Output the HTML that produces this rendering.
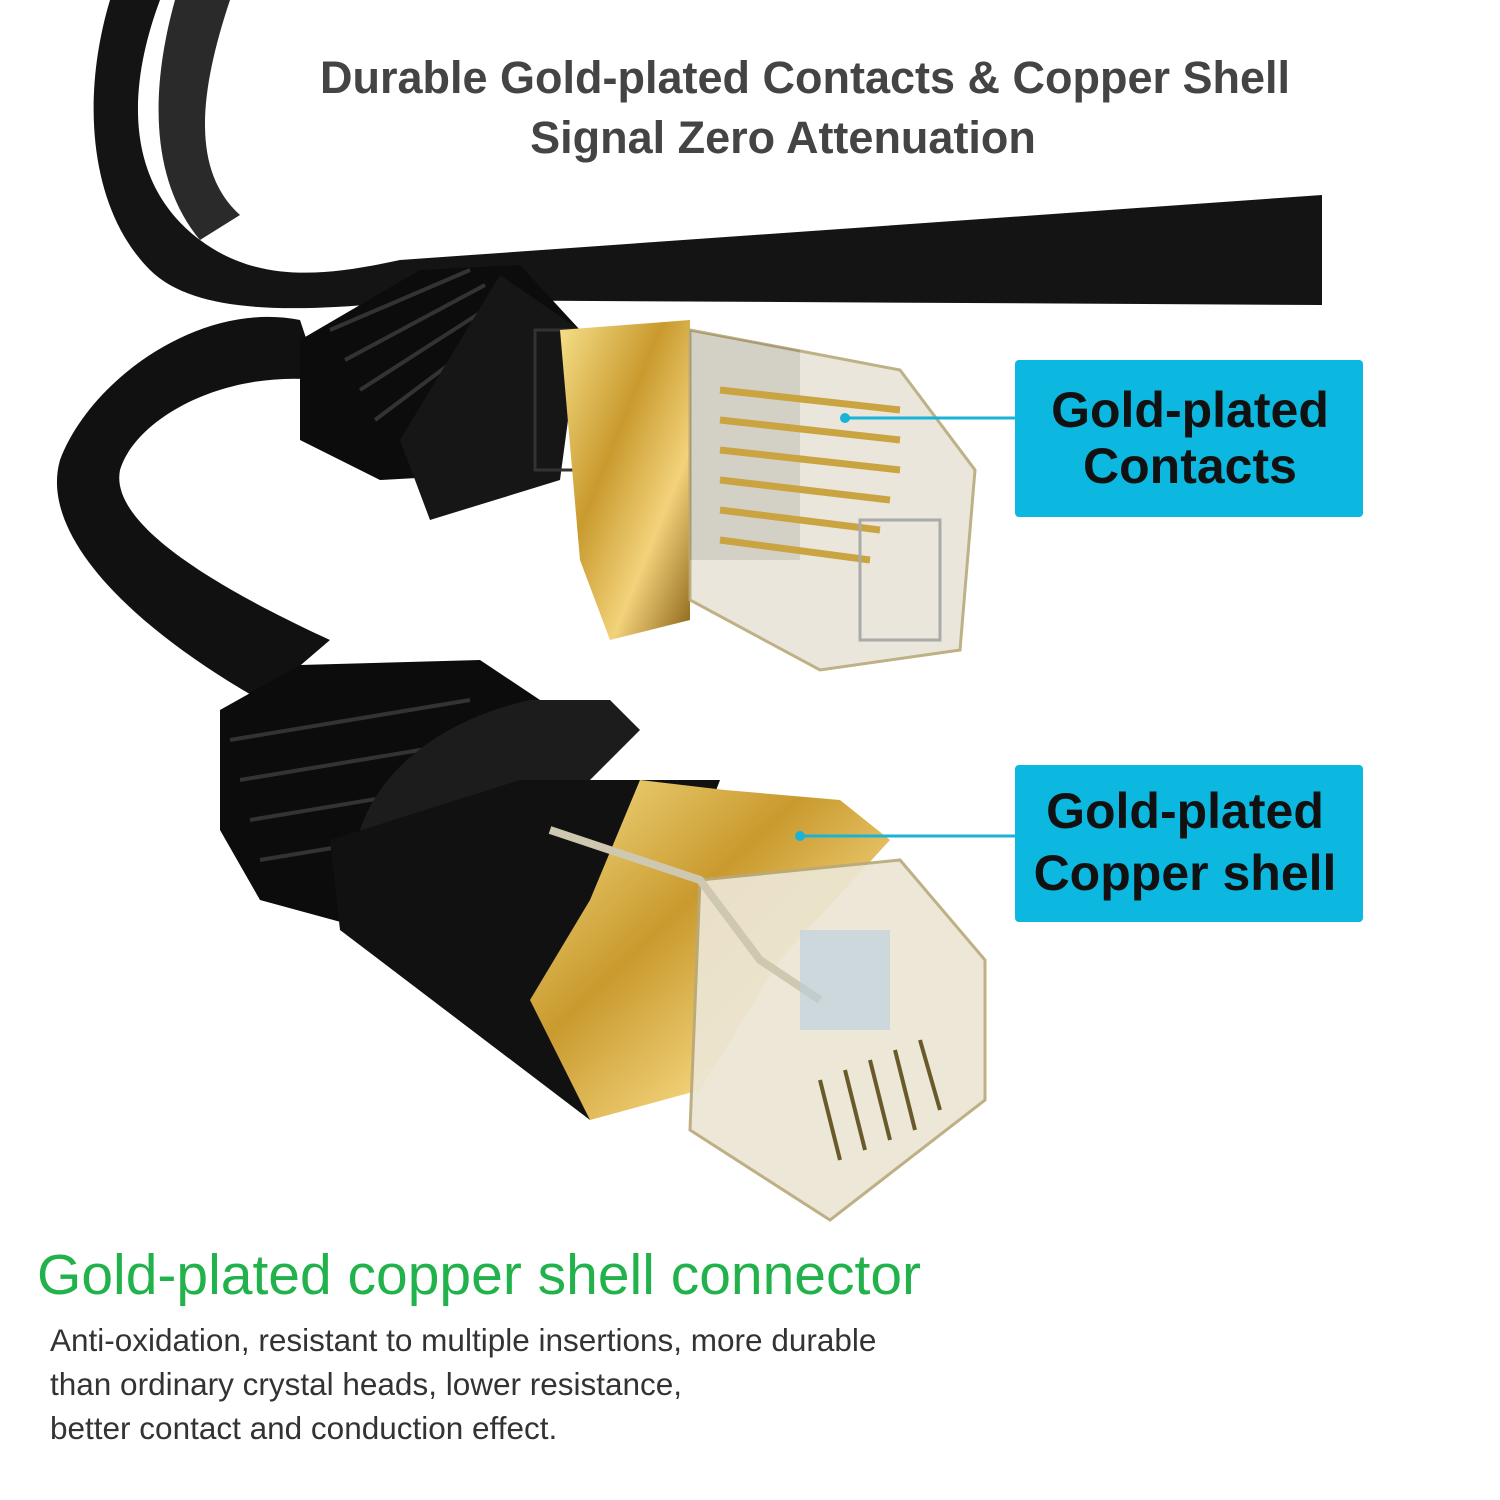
<!DOCTYPE html>
<html><head><meta charset="utf-8"><style>
html,body{margin:0;padding:0;background:#fff;}
#w{position:relative;width:1500px;height:1500px;overflow:hidden;font-family:"Liberation Sans",sans-serif;}
svg{position:absolute;left:0;top:0}
.t{position:absolute;white-space:nowrap}
</style></head><body><div id="w">
<svg width="1500" height="1500" viewBox="0 0 1500 1500">
<defs>
<linearGradient id="g" x1="0" y1="0" x2="1" y2="1">
<stop offset="0" stop-color="#f7e08a"/><stop offset="0.4" stop-color="#c99a2e"/><stop offset="0.7" stop-color="#f2d27a"/><stop offset="1" stop-color="#8a6418"/></linearGradient>
</defs>
<path d="M160 0 C130 80 120 180 200 240 C260 285 330 275 400 260 L1322 195 L1322 305 L420 300 C320 310 200 320 150 270 C90 210 80 100 110 0 Z" fill="#141414"/>
<path d="M230 0 C200 90 190 170 240 215 L200 240 C150 180 150 90 175 0Z" fill="#2a2a2a"/>
<path d="M300 320 C200 300 90 380 60 460 C40 530 120 620 260 700 L330 640 C200 580 110 520 120 470 C135 420 220 370 320 380 Z" fill="#111"/>
<polygon points="300,340 420,270 520,265 580,330 560,470 380,480 300,440" fill="#0c0c0c"/>
<g stroke="#333" stroke-width="4"><line x1="330" y1="330" x2="470" y2="270"/><line x1="345" y1="360" x2="485" y2="285"/><line x1="360" y1="390" x2="500" y2="300"/><line x1="375" y1="420" x2="515" y2="315"/></g>
<polygon points="500,275 580,330 560,480 430,520 400,440" fill="#161616"/>
<rect x="535" y="330" width="135" height="140" fill="none" stroke="#333" stroke-width="3"/>
<polygon points="560,330 690,320 690,620 610,640 580,560" fill="url(#g)"/>
<polygon points="690,330 800,350 800,560 690,560" fill="#1a1a1a"/>
<polygon points="690,330 900,370 975,470 960,650 820,670 690,600" fill="#e8e4d8" stroke="#b9a97a" stroke-width="3" opacity="0.9"/>
<g stroke="#c9a440" stroke-width="7"><line x1="720" y1="390" x2="900" y2="410"/><line x1="720" y1="420" x2="900" y2="440"/><line x1="720" y1="450" x2="900" y2="470"/><line x1="720" y1="480" x2="890" y2="500"/><line x1="720" y1="510" x2="880" y2="530"/><line x1="720" y1="540" x2="870" y2="560"/></g>
<rect x="860" y="520" width="80" height="120" fill="none" stroke="#aaa" stroke-width="3"/>
<polygon points="220,710 300,665 480,660 540,700 530,790 370,930 260,900 220,830" fill="#0c0c0c"/>
<g stroke="#333" stroke-width="4"><line x1="230" y1="740" x2="470" y2="700"/><line x1="240" y1="780" x2="480" y2="740"/><line x1="250" y1="820" x2="490" y2="780"/><line x1="260" y1="860" x2="500" y2="820"/></g>
<path d="M360 830 C380 770 440 720 530 700 L610 700 L640 730 L540 830 L420 860 Z" fill="#1c1c1c"/>
<polygon points="330,840 520,780 720,780 590,1120 340,930" fill="#111"/>
<polygon points="640,780 725,790 840,800 890,840 780,960 700,1090 590,1120 530,1000 590,900" fill="url(#g)"/>
<polygon points="700,880 900,860 985,960 985,1100 830,1220 690,1130" fill="#ece6d4" stroke="#b9a97a" stroke-width="3" opacity="0.92"/>
<polyline points="550,830 700,880 760,960 820,1000" fill="none" stroke="#cfc8b0" stroke-width="8"/>
<g stroke="#6a5a2a" stroke-width="4"><line x1="820" y1="1080" x2="840" y2="1160"/><line x1="845" y1="1070" x2="865" y2="1150"/><line x1="870" y1="1060" x2="890" y2="1140"/><line x1="895" y1="1050" x2="915" y2="1130"/><line x1="920" y1="1040" x2="940" y2="1110"/></g>
<rect x="800" y="930" width="90" height="100" fill="#b8cfe0" opacity="0.6"/>
<rect x="1015" y="360" width="348" height="157" rx="4" fill="#0cb8e0"/>
<rect x="1015" y="765" width="348" height="157" rx="4" fill="#0cb8e0"/>
<line x1="845" y1="418" x2="1015" y2="418" stroke="#19b3d8" stroke-width="3"/>
<circle cx="845" cy="418" r="5" fill="#19b3d8"/>
<line x1="800" y1="836" x2="1015" y2="836" stroke="#19b3d8" stroke-width="3"/>
<circle cx="800" cy="836" r="5" fill="#19b3d8"/>
</svg>
<div class="t" style="left:0;width:1610px;text-align:center;top:48px;font-size:45px;font-weight:bold;color:#444;line-height:60px">Durable Gold-plated Contacts &amp; Copper Shell</div>
<div class="t" style="left:0;width:1566px;text-align:center;top:108px;font-size:45px;font-weight:bold;color:#444;line-height:60px">Signal Zero Attenuation</div>
<div class="t" style="left:1030px;width:320px;text-align:center;top:382px;font-size:50px;font-weight:bold;color:#111;line-height:56px">Gold-plated<br>Contacts</div>
<div class="t" style="left:1025px;width:320px;text-align:center;top:780px;font-size:50px;font-weight:bold;color:#111;line-height:62px">Gold-plated<br>Copper shell</div>
<div class="t" style="left:37px;top:1242px;font-size:57px;color:#22b24c;">Gold-plated copper shell connector</div>
<div class="t" style="left:50px;top:1318px;font-size:31.5px;color:#333;line-height:44px">Anti-oxidation, resistant to multiple insertions, more durable<br>than ordinary crystal heads, lower resistance,<br>better contact and conduction effect.</div>
</div></body></html>
